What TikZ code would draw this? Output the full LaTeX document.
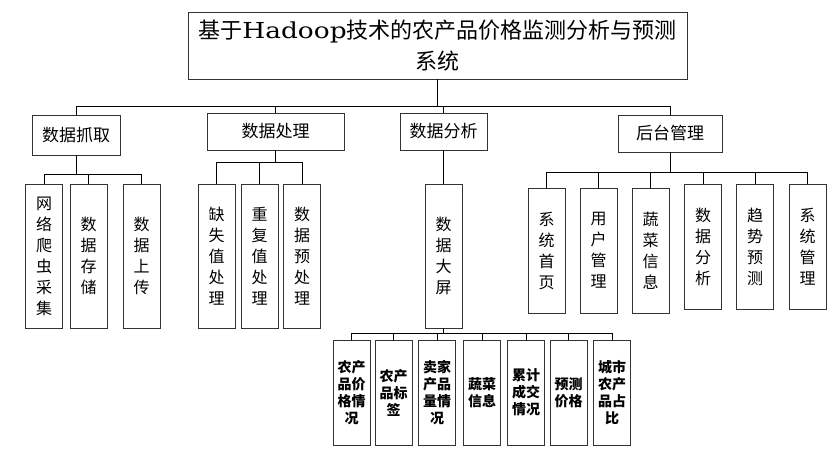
\documentclass[tikz,border=0pt]{standalone}
\usepackage{fontspec}
\setmainfont{Noto Sans CJK SC}
\newfontfamily\latinfont[FakeStretch=1.2]{DejaVu Serif}

\tikzset{
  box/.style={rectangle, draw=black!80, line width=0.8pt, inner sep=0pt, align=center},
  topbox/.style={box, minimum height=37pt, font=\fontsize{17pt}{20pt}\selectfont},
  vbox/.style={box, minimum width=37pt, font=\fontsize{16pt}{21pt}\selectfont},
  leaf/.style={box, minimum width=37pt, minimum height=105pt, font=\bfseries\fontsize{14pt}{17pt}\selectfont},
  link/.style={draw=black, line width=0.8pt}
}

\begin{document}
\begin{tikzpicture}[x=1pt, y=-1pt]
\useasboundingbox (0,0) rectangle (837,460);
% root and first level
\node[box, minimum width=499pt, minimum height=67pt, font=\fontsize{22pt}{31pt}\selectfont] (root) at (437.5,45.5) {基于{\latinfont Hadoop}技术的农产品价格监测分析与预测\\系统};
\node[topbox, minimum width=88pt, minimum height=40pt] (c1) at (76,135) {数据抓取};
\node[topbox, minimum width=137pt] (c2) at (275.5,131.5) {数据处理};
\node[topbox, minimum width=87pt] (c3) at (443.5,131.5) {数据分析};
\node[topbox, minimum width=104pt] (c4) at (670,133.5) {后台管理};

% second level
\node[vbox, minimum height=144pt] (a1) at (44,256) {网\\络\\爬\\虫\\采\\集};
\node[vbox, minimum height=144pt] (a2) at (88.5,256) {数\\据\\存\\储};
\node[vbox, minimum height=144pt] (a3) at (141.5,256) {数\\据\\上\\传};
\node[vbox, minimum height=144pt] (b1) at (216.5,256) {缺\\失\\值\\处\\理};
\node[vbox, minimum height=144pt] (b2) at (259.5,256) {重\\复\\值\\处\\理};
\node[vbox, minimum height=144pt] (b3) at (302,256) {数\\据\\预\\处\\理};
\node[vbox, minimum height=144pt] (d1) at (443.5,256) {数\\据\\大\\屏};
\node[vbox, minimum height=125pt] (e1) at (546.5,250.5) {系\\统\\首\\页};
\node[vbox, minimum height=125pt] (e2) at (598.5,250.5) {用\\户\\管\\理};
\node[vbox, minimum height=125pt] (e3) at (650.5,250.5) {蔬\\菜\\信\\息};
\node[vbox, minimum height=125pt] (e4) at (703,246.5) {数\\据\\分\\析};
\node[vbox, minimum height=125pt] (e5) at (755,246.5) {趋\\势\\预\\测};
\node[vbox, minimum height=125pt] (e6) at (807.5,246.5) {系\\统\\管\\理};

% third level
\node[leaf] (f1) at (351.5,392.5) {农产\\品价\\格情\\况};
\node[leaf] (f2) at (393.5,392.5) {农产\\品标\\签};
\node[leaf] (f3) at (437,392.5) {卖家\\产品\\量情\\况};
\node[leaf] (f4) at (482,392.5) {蔬菜\\信息};
\node[leaf] (f5) at (526,392.5) {累计\\成交\\情况};
\node[leaf] (f6) at (568.5,392.5) {预测\\价格};
\node[leaf] (f7) at (612,392.5) {城市\\农产\\品占\\比};

% connectors
\foreach \n in {c1,c2,c3,c4} \draw[link] (root.south) -- ++(0,27) -| (\n.north);
\foreach \n in {a1,a2,a3} \draw[link] (c1.south) -- ++(0,19) -| (\n.north);
\foreach \n in {b1,b2,b3} \draw[link] (c2.south) -- ++(0,12) -| (\n.north);
\draw[link] (c3.south) -- (d1.north);
\foreach \n in {e1,e2,e3,e4,e5,e6} \draw[link] (c4.south) -- ++(0,20) -| (\n.north);
\foreach \n in {f1,f2,f3,f4,f5,f6,f7} \draw[link] (d1.south) -- ++(0,5) -| (\n.north);
\end{tikzpicture}
\end{document}
